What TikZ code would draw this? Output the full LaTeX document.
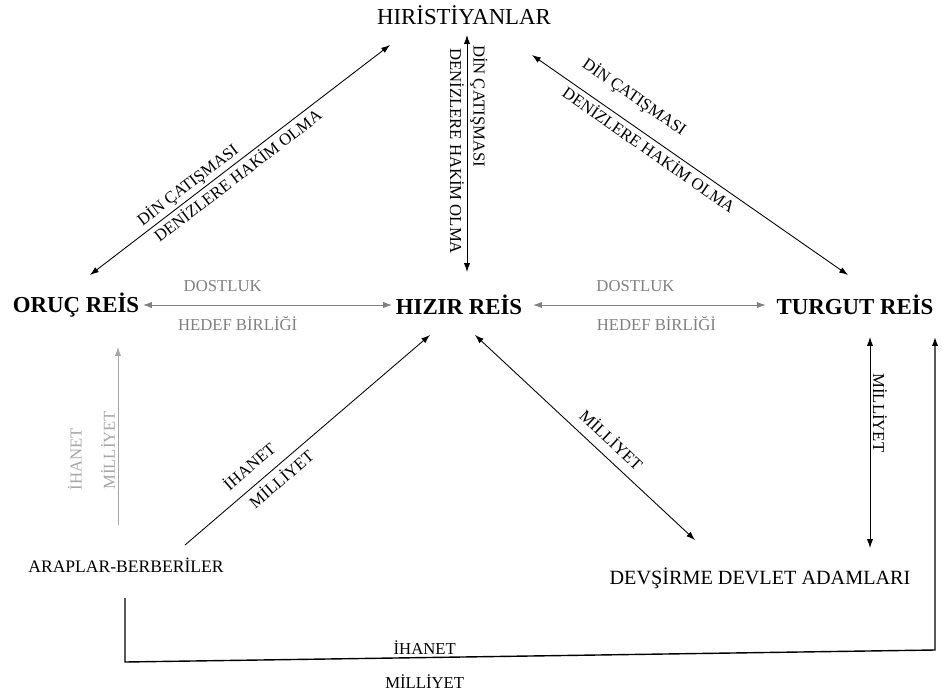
\documentclass[tikz,border=0pt]{standalone}
\usepackage{fontspec}
\setmainfont{Liberation Serif}
\usetikzlibrary{arrows.meta}

\tikzset{
	kisi/.style={font=\fontsize{13}{15}\selectfont\bfseries, inner sep=2pt},
	grup/.style={font=\fontsize{11.5}{13}\selectfont, inner sep=2pt},
	etiket/.style={font=\fontsize{9.5}{11}\selectfont, inner sep=1.5pt},
	ciftok/.style={line width=0.5pt, {Latex[length=5pt,width=3.5pt]}-{Latex[length=5pt,width=3.5pt]}},
	tekok/.style={line width=0.5pt, -{Latex[length=5pt,width=3.5pt]}}
}

\begin{document}
\begin{tikzpicture}[x=0.02cm, y=-0.02cm]
				\useasboundingbox (0,0) rectangle (943,693);
				\node[grup, font=\fontsize{13}{15}\selectfont] (hiris) at (464,15) {HIRİSTİYANLAR};
				\node[kisi] (oruc) at (76,305) {ORUÇ REİS};
				\node[kisi] (hizir) at (459,305) {HIZIR REİS};
				\node[kisi] (turgut) at (855,305) {TURGUT REİS};
				\node[grup, font=\fontsize{10}{12}\selectfont] (arap) at (126,565) {ARAPLAR-BERBERİLER};
				\node[grup] (devs) at (760,578) {DEVŞİRME DEVLET ADAMLARI};
				% hiristiyanlar ile
				\draw[ciftok] ([shift={(14,-30)}]oruc.center) -- ([shift={(-74,30)}]hiris.center) node[etiket,sloped,above,pos=0.35]{DİN ÇATIŞMASI} node[etiket,sloped,below,pos=0.47]{DENİZLERE HAKİM OLMA};
				\draw[ciftok] ([shift={(3,20)}]hiris.center) -- ([shift={(8,-33)}]hizir.center) node[etiket,rotate=-90,above,pos=0.30]{DİN ÇATIŞMASI} node[etiket,rotate=-90,below,pos=0.49]{DENİZLERE HAKİM OLMA};
				\draw[ciftok] ([shift={(68,40)}]hiris.center) -- ([shift={(-7,-30)}]turgut.center) node[etiket,sloped,above=7pt,pos=0.28]{DİN ÇATIŞMASI} node[etiket,sloped,below,pos=0.39]{DENİZLERE HAKİM OLMA};
				% reisler
				\draw[ciftok, gray] (oruc.east) -- (hizir.west) node[etiket,above=6pt,pos=0.32]{DOSTLUK} node[etiket,below=5pt,pos=0.38]{HEDEF BİRLİĞİ};
				\draw[ciftok, gray] ([xshift=4pt]hizir.east) -- ([xshift=-4pt]turgut.west) node[etiket,above=6pt,pos=0.44]{DOSTLUK} node[etiket,below=5pt,pos=0.53]{HEDEF BİRLİĞİ};
				% alt gruplar
				\draw[tekok, gray!70] ([shift={(-8,-40)}]arap.center) -- ([shift={(42,42)}]oruc.center) node[etiket,rotate=90,above,pos=0.42]{MİLLİYET} node[etiket,rotate=90,above=19pt,pos=0.37]{İHANET};
				\draw[tekok] ([shift={(59,-20)}]arap.center) -- ([shift={(-29,30)}]hizir.center) node[etiket,sloped,above=5pt,pos=0.31]{İHANET} node[etiket,sloped,below=1pt,pos=0.36]{MİLLİYET};
				\draw[ciftok] ([shift={(16,30)}]hizir.center) -- ([shift={(-65,-38)}]devs.center) node[etiket,sloped,above=4pt,pos=0.57]{MİLLİYET};
				\draw[ciftok] ([shift={(15,32)}]turgut.center) -- ([shift={(110,-30)}]devs.center) node[etiket,rotate=-90,above,pos=0.36]{MİLLİYET};
				\draw[tekok, line width=0.8pt] ([shift={(-1,33)}]arap.center) -- ([shift={(-1,97)}]arap.center) -- ([shift={(80,345)}]turgut.center) node[etiket,above,pos=0.37]{İHANET} node[etiket,below=8pt,pos=0.37]{MİLLİYET} -- ([shift={(80,32)}]turgut.center);
\end{tikzpicture}
\end{document}
